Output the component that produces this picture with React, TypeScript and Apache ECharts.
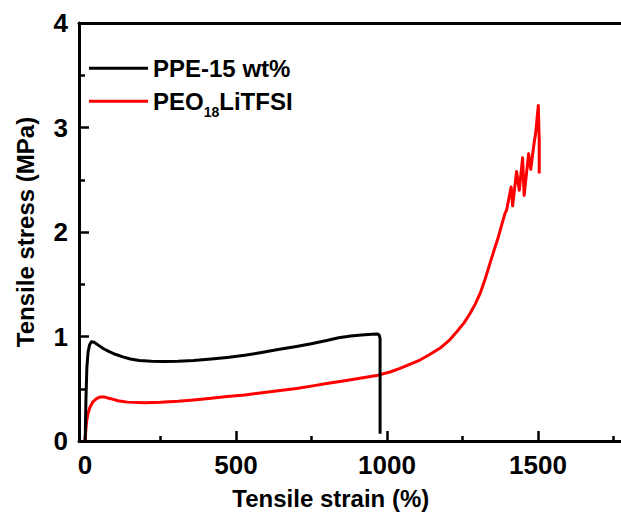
import React, { useEffect, useRef } from "react";
import * as echarts from "echarts";

const ppeName = "PPE-15 wt%";
const peoName = "PEO18LiTFSI";

const ppeStrain = [0, 1, 3, 6, 10, 15, 21, 30, 45, 60, 80, 100, 125, 150, 180, 220, 260, 308, 360, 418, 470, 529, 580, 639, 700, 749, 800, 840, 880, 915, 950, 968, 974, 977, 977];
const ppeStress = [0, 0.08, 0.4, 0.7, 0.85, 0.92, 0.95, 0.945, 0.915, 0.885, 0.855, 0.83, 0.805, 0.785, 0.77, 0.762, 0.76, 0.762, 0.77, 0.785, 0.8, 0.82, 0.845, 0.875, 0.905, 0.93, 0.962, 0.988, 1.005, 1.015, 1.022, 1.025, 1.015, 0.98, 0.07];

const peoStrain = [0, 3, 6, 10, 16, 26, 38, 49, 65, 85, 109, 140, 198, 250, 308, 360, 418, 470, 529, 580, 639, 700, 749, 800, 860, 915, 970, 1010, 1043, 1075, 1109, 1140, 1175, 1205, 1231, 1255, 1275, 1292, 1308, 1325, 1341, 1355, 1369, 1380, 1391, 1396, 1411, 1416, 1429, 1438, 1449, 1454, 1469, 1476, 1487, 1492, 1501, 1504, 1504];
const peoStress = [0, 0.12, 0.2, 0.265, 0.32, 0.375, 0.405, 0.42, 0.42, 0.405, 0.385, 0.372, 0.365, 0.37, 0.38, 0.393, 0.41, 0.425, 0.44, 0.46, 0.48, 0.503, 0.525, 0.55, 0.577, 0.603, 0.63, 0.66, 0.695, 0.733, 0.775, 0.825, 0.887, 0.96, 1.046, 1.13, 1.22, 1.31, 1.41, 1.55, 1.7, 1.83, 1.955, 2.07, 2.18, 2.21, 2.43, 2.25, 2.58, 2.4, 2.71, 2.35, 2.75, 2.6, 2.85, 2.94, 3.21, 2.88, 2.56];

const xMajorTicks = [0, 500, 1000, 1500];
const xMinorTicks = [250, 750, 1250, 1750];

const FONT = "Arial, 'Liberation Sans', sans-serif";

export default function App() {
  const ref = useRef<HTMLDivElement>(null);
  useEffect(() => {
    if (!ref.current) return;
    const chart = echarts.init(ref.current, undefined, { renderer: "svg" });
    const xBase = { type: "value", min: -20, max: 1800, splitLine: { show: false } };
    chart.setOption({
      animation: false,
      backgroundColor: "#ffffff",
      grid: { left: 79, right: 11.4, top: 23, bottom: 75, containLabel: false },
      legend: [
        {
          data: [{ name: ppeName, icon: "rect" }],
          left: 89,
          top: 54.3,
          padding: 0,
          itemWidth: 59,
          itemHeight: 3,
          textStyle: { fontFamily: FONT, fontWeight: "bold", fontSize: 24, color: "#000", lineHeight: 28 },
        },
        {
          data: [{ name: peoName, icon: "rect" }],
          left: 89,
          top: 89.3,
          padding: 0,
          itemWidth: 59,
          itemHeight: 3,
          formatter: () => "{a|PEO}{b|18}{a|LiTFSI}",
          textStyle: {
            fontFamily: FONT,
            color: "#000",
            rich: {
              a: { fontFamily: FONT, fontWeight: "bold", fontSize: 24, lineHeight: 36, color: "#000" },
              b: { fontFamily: FONT, fontWeight: "bold", fontSize: 14, lineHeight: 14, verticalAlign: "bottom", color: "#000" },
            },
          },
        },
      ],
      xAxis: [
        {
          ...xBase,
          position: "bottom",
          name: "Tensile strain (%)",
          nameLocation: "middle",
          nameGap: 45,
          nameTextStyle: { fontFamily: FONT, fontWeight: "bold", fontSize: 24, color: "#000", padding: [0, 46, 0, 0] },
          axisLine: { show: true, onZero: false, lineStyle: { color: "#000", width: 3 } },
          axisTick: { show: true, inside: true, length: 10, customValues: xMajorTicks, lineStyle: { color: "#000", width: 2.5 } },
          axisLabel: {
            show: true,
            margin: 11,
            customValues: xMajorTicks,
            formatter: (v: number) => String(v),
            fontFamily: FONT,
            fontWeight: "bold",
            fontSize: 26,
            color: "#000",
          },
        },
        {
          ...xBase,
          position: "bottom",
          axisLine: { show: false },
          axisTick: { show: true, inside: true, length: 5, customValues: xMinorTicks, lineStyle: { color: "#000", width: 2.5 } },
          axisLabel: { show: false },
        },
        {
          ...xBase,
          position: "top",
          axisLine: { show: true, onZero: false, lineStyle: { color: "#000", width: 3 } },
          axisTick: { show: false },
          axisLabel: { show: false },
        },
      ],
      yAxis: {
        type: "value",
        min: 0,
        max: 4,
        interval: 1,
        name: "Tensile stress (MPa)",
        nameLocation: "middle",
        nameGap: 42,
        nameTextStyle: { fontFamily: FONT, fontWeight: "bold", fontSize: 24, color: "#000" },
        splitLine: { show: false },
        axisLine: { show: true, onZero: false, lineStyle: { color: "#000", width: 3 } },
        axisTick: { show: true, inside: true, length: 10, lineStyle: { color: "#000", width: 2.5 } },
        minorTick: { show: true, splitNumber: 2, length: 6, lineStyle: { color: "#000", width: 2.5 } },
        axisLabel: { margin: 11, fontFamily: FONT, fontWeight: "bold", fontSize: 26, color: "#000" },
      },
      series: [
        {
          name: peoName,
          type: "line",
          xAxisIndex: 0,
          symbol: "none",
          data: peoStrain.map((x, i) => [x, peoStress[i]]),
          lineStyle: { color: "#ff0000", width: 3, join: "round" },
          itemStyle: { color: "#ff0000" },
        },
        {
          name: ppeName,
          type: "line",
          xAxisIndex: 0,
          symbol: "none",
          data: ppeStrain.map((x, i) => [x, ppeStress[i]]),
          lineStyle: { color: "#000000", width: 3, join: "round" },
          itemStyle: { color: "#000000" },
        },
      ],
    });
    return () => chart.dispose();
  }, []);
  return (
    <div style={{ position: "absolute", left: 0, top: 0, width: 621, height: 516, overflow: "hidden", background: "#fff" }}>
      <div ref={ref} style={{ width: 640, height: 516 }} />
    </div>
  );
}
